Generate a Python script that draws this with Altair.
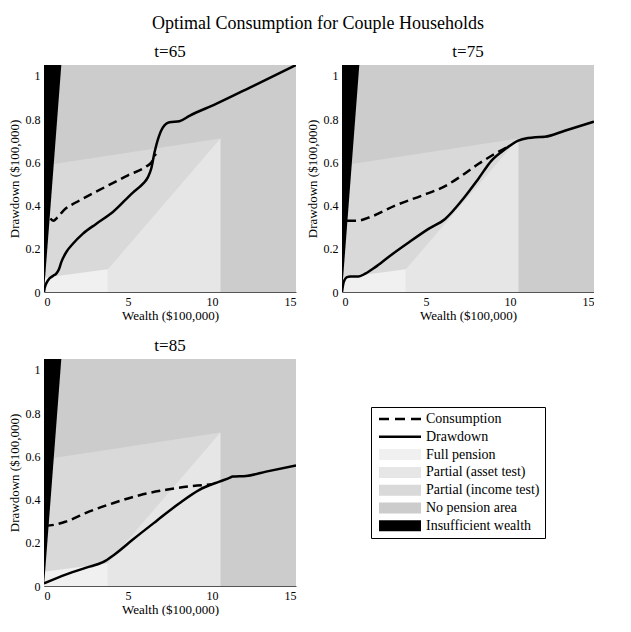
import altair as alt
import pandas as pd

FONT = "Liberation Serif"

# ---- pension regions (shared by all panels) ----
full_x = [0, 3.8]
full_top = [0.066, 0.105]
asset_x = [3.8, 10.5]
asset_top = [0.105, 0.71]
income_x = [0, 10.5]
income_top = [0.585, 0.71]
nopen_x = [0, 15]
nopen_top = [1.05, 1.05]
insuff_x = [0, 1.03]
insuff_top = [1.05, 1.05]
insuff_bot = [0, 1.05]

# ---- t = 65 ----
c65_x = [0.38, 0.55, 0.8, 1.2, 1.92, 3.0, 4.0, 5.0, 6.08, 6.4, 6.65]
c65_y = [0.34, 0.33, 0.345, 0.38, 0.415, 0.46, 0.50, 0.54, 0.58, 0.60, 0.64]
d65_x = [0, 0.04, 0.24, 0.53, 0.73, 0.89, 1.03, 1.33, 1.72, 2.32, 3.1, 4.1, 5.29, 5.88, 6.18,
         6.38, 6.58, 6.84, 7.07, 7.47, 8.06, 8.66, 10.24, 12.5, 15]
d65_y = [0, 0.018, 0.054, 0.074, 0.085, 0.105, 0.138, 0.185, 0.223, 0.27, 0.315, 0.37, 0.46,
         0.50, 0.53, 0.57, 0.646, 0.72, 0.76, 0.785, 0.79, 0.815, 0.87, 0.955, 1.05]

# ---- t = 75 ----
c75_x = [0.3, 0.89, 1.78, 3.17, 4.75, 6.14, 7.13, 8.11, 8.9, 9.7, 9.95]
c75_y = [0.33, 0.33, 0.35, 0.40, 0.446, 0.49, 0.538, 0.592, 0.63, 0.665, 0.675]
d75_x = [0, 0.1, 0.3, 0.5, 0.99, 1.39, 1.98, 2.77, 3.86, 5.15, 6.14, 7.13, 8.11, 8.9, 9.7,
         10.49, 11.08, 11.5, 12.07, 13.26, 15]
d75_y = [0, 0.046, 0.069, 0.072, 0.072, 0.085, 0.115, 0.162, 0.223, 0.292, 0.338, 0.423, 0.523,
         0.608, 0.66, 0.70, 0.712, 0.716, 0.718, 0.746, 0.788]

# ---- t = 85 ----
c85_x = [0.05, 0.14, 1.33, 2.71, 4.1, 5.69, 7.27, 8.86, 9.95]
c85_y = [0.28, 0.279, 0.299, 0.345, 0.383, 0.42, 0.445, 0.463, 0.469]
d85_x = [0, 1.33, 2.52, 3.51, 4.2, 5.29, 6.68, 8.06, 9.25, 10.44, 11.04, 11.23, 12.03, 13.22, 15]
d85_y = [0.012, 0.054, 0.085, 0.11, 0.146, 0.215, 0.30, 0.383, 0.445, 0.483, 0.50, 0.506, 0.509,
         0.529, 0.558]

# ---- legend ----
legend_items = ["Consumption", "Drawdown", "Full pension", "Partial (asset test)",
                "Partial (income test)", "No pension area", "Insufficient wealth"]
legend_colors = ["#000000", "#000000", "#f0f0f0", "#e6e6e6", "#d9d9d9", "#cccccc", "#000000"]

# legend symbol glyphs (dashed line, solid line, swatch), in symbol units
DASH = "M-21,-1.25H-11V1.25H-21Z M-5,-1.25H5V1.25H-5Z M11,-1.25H21V1.25H11Z"
SOLID = "M-21,-1.25H21V1.25H-21Z"
SWATCH = "M-21,-5.5H21V5.5H-21Z"
legend_shapes = [DASH, SOLID, SWATCH, SWATCH, SWATCH, SWATCH, SWATCH]

C_FULL, C_ASSET, C_INCOME, C_NOPEN, C_INSUFF = legend_colors[2:]

PW, PH = 252, 227

xenc = alt.X("x:Q", scale=alt.Scale(domain=[0, 15], nice=False),
             axis=alt.Axis(values=[0, 5, 10, 15], title="Wealth ($100,000)", titlePadding=2))
yenc = alt.Y("top:Q", scale=alt.Scale(domain=[0, 1.05], nice=False),
             axis=alt.Axis(values=[0, 0.2, 0.4, 0.6, 0.8, 1.0], format="~g",
                           title="Drawdown ($100,000)", titlePadding=4))


def region(xs, tops, bots, color):
    df = pd.DataFrame({"x": xs, "top": tops, "bot": bots})
    return alt.Chart(df).mark_area(color=color, opacity=1).encode(
        x=xenc, y=yenc, y2="bot:Q")


def curve(xs, ys, dashed):
    df = pd.DataFrame({"x": xs, "top": ys})
    kw = dict(color="black", strokeWidth=2.5, interpolate="monotone", clip=True,
              strokeCap="butt")
    if dashed:
        kw["strokeDash"] = [9, 5]
    return alt.Chart(df).mark_line(**kw).encode(x=xenc, y=yenc)


def panel(title, cx, cy, dx, dy):
    layers = [
        region(nopen_x, nopen_top, [0, 0], C_NOPEN),
        region(income_x, income_top, [0, 0], C_INCOME),
        region(asset_x, asset_top, [0, 0], C_ASSET),
        region(full_x, full_top, [0, 0], C_FULL),
        region(insuff_x, insuff_top, insuff_bot, C_INSUFF),
        curve(cx, cy, True),
        curve(dx, dy, False),
    ]
    return alt.layer(*layers).properties(width=PW, height=PH, title=title)


p65 = panel("t=65", c65_x, c65_y, d65_x, d65_y)
p75 = panel("t=75", c75_x, c75_y, d75_x, d75_y)
p85 = panel("t=85", c85_x, c85_y, d85_x, d85_y)


def leg():
    return alt.Legend(title=None, orient="none", legendX=327, legendY=342,
                      strokeColor="black", padding=5, symbolSize=4, symbolOffset=17,
                      symbolStrokeWidth=0, labelFont=FONT, labelFontSize=14,
                      labelColor="black", labelOffset=19, rowPadding=3.8,
                      cornerRadius=0, symbolOpacity=1, fillColor="white")


leg_df = pd.DataFrame({"item": legend_items})
legend_cell = alt.Chart(leg_df).transform_filter("false").mark_point(filled=True).encode(
    fill=alt.Fill("item:N", scale=alt.Scale(domain=legend_items, range=legend_colors),
                  legend=leg()),
    shape=alt.Shape("item:N", scale=alt.Scale(domain=legend_items, range=legend_shapes),
                    legend=leg()),
).properties(width=PW, height=PH)

chart = alt.concat(p65, p75, p85, legend_cell, columns=2,
                   spacing={"row": 15, "column": 10}).properties(
    background="white",
    padding={"left": 0, "top": 7, "right": 0, "bottom": 0},
    title=alt.TitleParams("Optimal Consumption for Couple Households", fontSize=18,
                          font=FONT, fontWeight="normal", anchor="middle", offset=10, dx=17)
).configure_view(stroke=None).configure_axis(
    labelFont=FONT, titleFont=FONT, labelFontSize=12, titleFontSize=13,
    titleFontWeight="normal", grid=False, ticks=False, domainColor="#555555",
    labelColor="black", titleColor="black", labelPadding=4
).configure_title(font=FONT, fontSize=17, fontWeight="normal", color="black", offset=4)

chart.save("out.html", embed_options={"renderer": "svg", "actions": False})
